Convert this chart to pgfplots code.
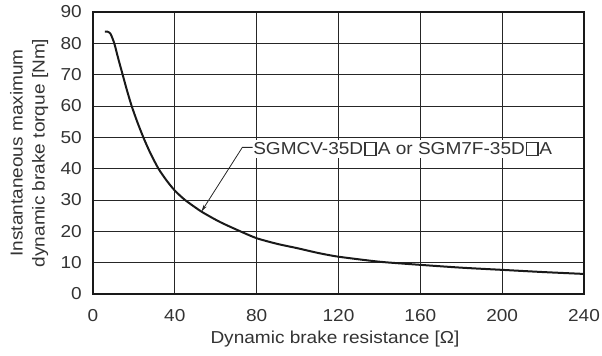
\documentclass[border=0pt]{standalone}
\usepackage{fontspec}
\setmainfont[FakeStretch=1.1]{Liberation Sans}
\usepackage{pgfplots}
\pgfplotsset{compat=1.18}
\usetikzlibrary{arrows.meta}
\newcommand\sq{\kern0.05em{\setlength\fboxsep{0pt}\setlength\fboxrule{1.6bp}\fbox{\rule{0pt}{0.66em}\rule{0.56em}{0pt}}}\kern0.05em}
\newcommand\fnt{\fontsize{17.3bp}{20bp}\selectfont}
\begin{document}
\begin{tikzpicture}
\begin{axis}[
  scale only axis,
  width=491bp, height=282bp,
  xmin=0, xmax=240, ymin=0, ymax=90,
  xtick={0,40,...,240}, ytick={0,10,...,90},
  major tick length=0,
  grid=major,
  major grid style={line width=0.7bp, black!85},
  axis line style={line width=1.8bp, black!90},
  /pgf/number format/assume math mode=true,
  tick label style={font=\fnt, text=black!80},
  xticklabel style={anchor=base, inner sep=0pt, yshift=-28bp},
  yticklabel style={anchor=east, inner sep=0pt, xshift=-11bp},
  xlabel={Dynamic brake resistance [Ω]},
  xlabel style={at={(rel axis cs:0.4929,-0.1773)}, anchor=base, inner sep=0pt,
    font=\fnt, text=black!80},
  ylabel={Instantaneous maximum\\dynamic brake torque [Nm]},
  ylabel style={at={(rel axis cs:-0.0906,0.5)}, anchor=south, inner sep=0pt, align=center,
    font=\fontsize{17.3bp}{22bp}\selectfont, text=black!80},
  clip=false,
]
\addplot[line width=2bp, black!90, smooth, tension=0.4] coordinates {
(5.8,83.7)(7.2,83.7)(8.6,83.0)(10.4,80)(12.4,75)(14.5,70)(16.6,65)(18.9,60)
(21.6,55)(24.6,50)(28,45)(32,40)(36,36.2)(40,33)(45,30)(53,26.3)(62,23)
(72,20)(80,17.8)(90,16)(100,14.6)(110,13.1)(120,11.9)(140,10.3)(160,9.3)
(180,8.4)(200,7.7)(220,7.0)(240,6.4)};
\node[anchor=west, fill=white, inner xsep=1.5bp, inner ysep=2bp,
  font=\fnt, text=black!80]
  at (axis cs:77.5,46.3) {SGMCV-35D\sq A or SGM7F-35D\sq A\hspace{10bp}};
\draw[line width=0.8bp, black!85, -{Stealth[length=7bp,width=3.5bp]}]
  (axis cs:78,46.8) -- (axis cs:73,46.8) -- (axis cs:53,26.3);
\end{axis}
\pgfresetboundingbox
\useasboundingbox ([xshift=-93bp,yshift=-62bp]current axis.south west) rectangle ([xshift=18bp,yshift=12bp]current axis.north east);
\end{tikzpicture}
\end{document}
